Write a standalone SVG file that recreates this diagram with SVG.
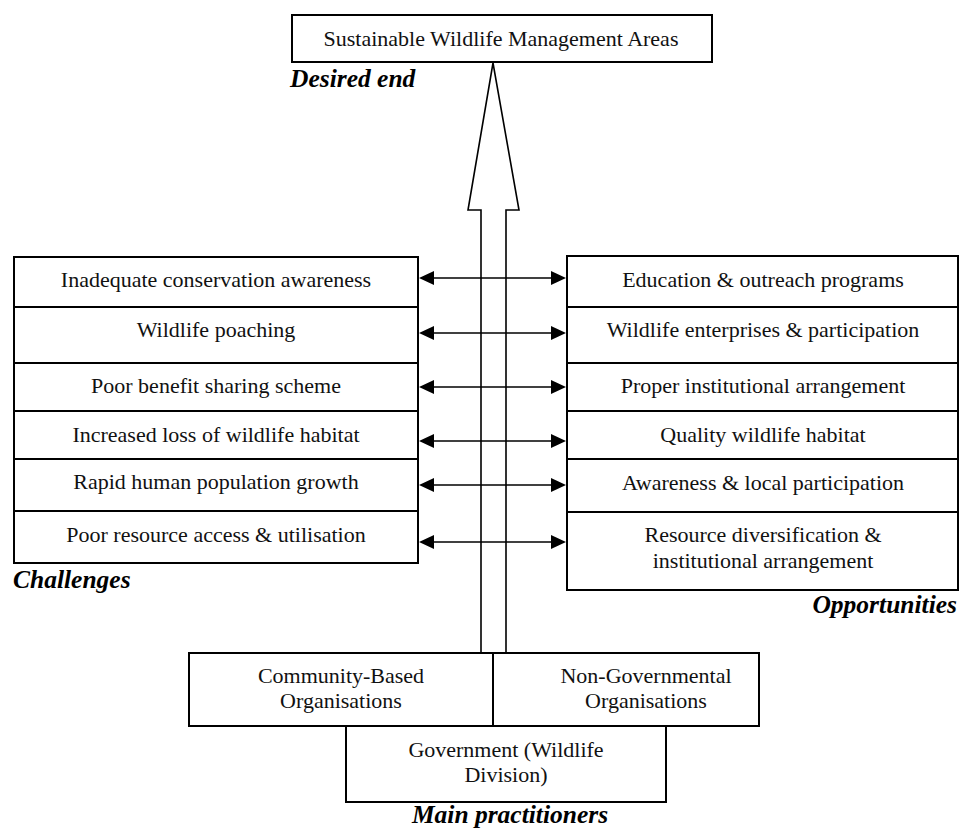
<svg xmlns="http://www.w3.org/2000/svg" width="960" height="829" viewBox="0 0 960 829">
<style>
.box{fill:#fff;stroke:#000;stroke-width:2}
.t{font-family:"Liberation Serif","Times New Roman",serif;font-size:22px;fill:#111;text-anchor:middle}
.lbl{font-family:"Liberation Serif","Times New Roman",serif;font-size:25.5px;font-style:italic;font-weight:bold;fill:#000}
.conn{stroke:#000;stroke-width:1.6;fill:none}
</style>
<defs>
<marker id="ah" markerUnits="userSpaceOnUse" viewBox="0 -7 15 14" refX="0" refY="0" markerWidth="15" markerHeight="14" orient="auto-start-reverse">
<path d="M0,-7 L15,0 L0,7 z" fill="#000"/>
</marker>
</defs>
<rect width="960" height="829" fill="#fff"/>

<g id="connectors">
<path id="big-arrow" d="M481,652 L481,210 L468,210 L493,63 L519,210 L506,210 L506,652" fill="#fff" stroke="#000" stroke-width="1.6"/>
<line class="conn" x1="434" y1="278" x2="551" y2="278" marker-start="url(#ah)" marker-end="url(#ah)"/>
<line class="conn" x1="434" y1="333" x2="551" y2="333" marker-start="url(#ah)" marker-end="url(#ah)"/>
<line class="conn" x1="434" y1="387" x2="551" y2="387" marker-start="url(#ah)" marker-end="url(#ah)"/>
<line class="conn" x1="434" y1="441" x2="551" y2="441" marker-start="url(#ah)" marker-end="url(#ah)"/>
<line class="conn" x1="434" y1="485" x2="551" y2="485" marker-start="url(#ah)" marker-end="url(#ah)"/>
<line class="conn" x1="434" y1="542" x2="551" y2="542" marker-start="url(#ah)" marker-end="url(#ah)"/>
</g>

<g id="desired">
<rect class="box" x="292" y="15" width="420" height="47"/>
<text class="t" x="501" y="46">Sustainable Wildlife Management Areas</text>
</g>
<text class="lbl" x="290" y="87">Desired end</text>

<g id="challenges">
<g id="c1"><rect class="box" x="14" y="257" width="404" height="50"/><text class="t" x="216" y="287">Inadequate conservation awareness</text></g>
<g id="c2"><rect class="box" x="14" y="307" width="404" height="56"/><text class="t" x="216" y="337">Wildlife poaching</text></g>
<g id="c3"><rect class="box" x="14" y="363" width="404" height="48"/><text class="t" x="216" y="393">Poor benefit sharing scheme</text></g>
<g id="c4"><rect class="box" x="14" y="411" width="404" height="48"/><text class="t" x="216" y="442">Increased loss of wildlife habitat</text></g>
<g id="c5"><rect class="box" x="14" y="459" width="404" height="52"/><text class="t" x="216" y="489">Rapid human population growth</text></g>
<g id="c6"><rect class="box" x="14" y="511" width="404" height="52"/><text class="t" x="216" y="542">Poor resource access &amp; utilisation</text></g>
</g>
<text class="lbl" x="13" y="588">Challenges</text>

<g id="opportunities">
<g id="o1"><rect class="box" x="567" y="256" width="391" height="51"/><text class="t" x="763" y="287">Education &amp; outreach programs</text></g>
<g id="o2"><rect class="box" x="567" y="307" width="391" height="56"/><text class="t" x="763" y="337">Wildlife enterprises &amp; participation</text></g>
<g id="o3"><rect class="box" x="567" y="363" width="391" height="48"/><text class="t" x="763" y="393">Proper institutional arrangement</text></g>
<g id="o4"><rect class="box" x="567" y="411" width="391" height="48"/><text class="t" x="763" y="442">Quality wildlife habitat</text></g>
<g id="o5"><rect class="box" x="567" y="459" width="391" height="53"/><text class="t" x="763" y="490">Awareness &amp; local participation</text></g>
<g id="o6"><rect class="box" x="567" y="512" width="391" height="78"/><text class="t" x="763" y="542">Resource diversification &amp;</text><text class="t" x="763" y="568">institutional arrangement</text></g>
</g>
<text class="lbl" x="957" y="613" text-anchor="end">Opportunities</text>

<g id="practitioners">
<g id="cbo"><rect class="box" x="189" y="653" width="304" height="73"/><text class="t" x="341" y="683">Community-Based</text><text class="t" x="341" y="708">Organisations</text></g>
<g id="ngo"><rect class="box" x="493" y="653" width="266" height="73"/><text class="t" x="646" y="683">Non-Governmental</text><text class="t" x="646" y="708">Organisations</text></g>
<g id="gov"><rect class="box" x="346" y="726" width="320" height="76"/><text class="t" x="506" y="757">Government (Wildlife</text><text class="t" x="506" y="782">Division)</text></g>
</g>
<text class="lbl" x="510" y="823" text-anchor="middle">Main practitioners</text>
</svg>
